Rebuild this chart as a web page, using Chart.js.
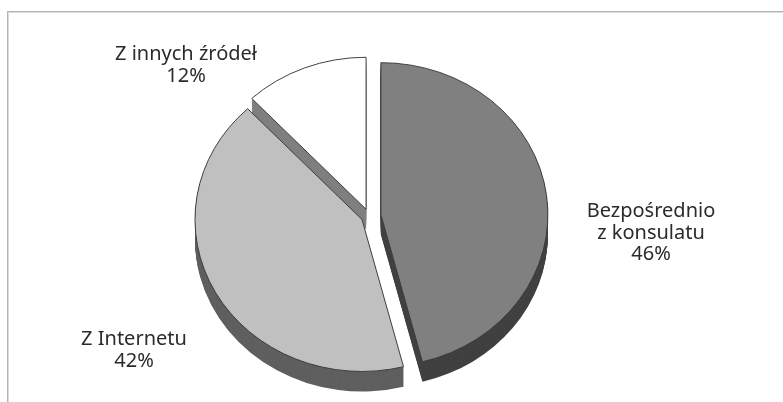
<!DOCTYPE html>
<html>
<head>
<meta charset="utf-8">
<script src="https://cdn.jsdelivr.net/npm/chart.js@4.4.1/dist/chart.umd.min.js"></script>
<style>
  html, body { margin: 0; padding: 0; background: #ffffff; }
  #wrap { position: relative; width: 783px; height: 402px; }
  canvas { display: block; }
</style>
</head>
<body>
<div id="wrap"><canvas id="c" width="783" height="402"></canvas></div>
<script>
// ---- data ----
const categories = [["Bezpośrednio", "z konsulatu"], ["Z Internetu"], ["Z innych źródeł"]];
const shares = [46, 42, 12];

// ---- styling ----
const topColors = ['#808080', '#c0c0c0', '#ffffff'];
const sideColors = ['#404040', '#5f5f5f', '#7f7f7f'];

const pie3d = {
  id: 'pie3d',
  beforeDraw(chart, args, opts) {
    const ctx = chart.ctx;
    ctx.save();
    ctx.fillStyle = '#b4b4b4';
    ctx.fillRect(7, 11, chart.width, 1);
    ctx.fillRect(7, 11, 1, chart.height);
    ctx.fillStyle = '#dcdcdc';
    ctx.fillRect(8, 12, chart.width, 1);
    ctx.fillRect(8, 12, 1, chart.height);
    ctx.restore();
  },
  beforeDatasetDraw(chart, args, opts) {
    const ctx = chart.ctx;
    const arcs = args.meta.data;
    if (!arcs.length) return false;
    const cx = arcs[0].x, cy = arcs[0].y;
    const sq = opts.squash;
    ctx.save();
    ctx.translate(cx, cy);
    ctx.scale(1, sq);
    ctx.translate(-cx, -cy);
    const shifts = arcs.map((arc, i) => {
      const h = (arc.startAngle + arc.endAngle) / 2;
      return [Math.cos(h) * opts.explode[i], Math.sin(h) * opts.explode[i]];
    });
    // side walls (extrusion)
    arcs.forEach((arc, i) => {
      const [ex, ey] = shifts[i];
      ctx.fillStyle = opts.sideColors[i];
      for (let d = opts.depth; d >= 1; d--) {
        const ox = arc.x + ex, oy = arc.y + ey + d / sq;
        ctx.beginPath();
        ctx.moveTo(ox, oy);
        ctx.arc(ox, oy, arc.outerRadius, arc.startAngle, arc.endAngle);
        ctx.closePath();
        ctx.fill();
      }
    });
    // top faces drawn by the library's arc elements
    arcs.forEach((arc, i) => {
      const [ex, ey] = shifts[i];
      ctx.save();
      ctx.translate(ex, ey);
      arc.draw(ctx);
      ctx.restore();
    });
    ctx.restore();
    return false;
  },
  afterDraw(chart, args, opts) {
    const ctx = chart.ctx;
    ctx.save();
    ctx.font = opts.font;
    ctx.fillStyle = opts.color;
    ctx.textAlign = 'center';
    ctx.textBaseline = 'alphabetic';
    chart.data.labels.forEach((lab, i) => {
      const lines = (Array.isArray(lab) ? lab.slice() : [lab]);
      lines.push(chart.data.datasets[0].data[i] + '%');
      const [x, y] = opts.labelPos[i];
      lines.forEach((t, k) => ctx.fillText(t, x, y + k * opts.lineHeight));
    });
    ctx.restore();
  }
};

new Chart(document.getElementById('c'), {
  type: 'pie',
  data: {
    labels: categories,
    datasets: [{
      data: shares,
      backgroundColor: topColors,
      borderColor: '#3a3a3a',
      borderWidth: 1,
      offset: 0
    }]
  },
  options: {
    responsive: false,
    animation: false,
    radius: 167,
    layout: { padding: { left: 0, right: 45, top: 30, bottom: 0 } },
    events: [],
    plugins: {
      legend: { display: false },
      tooltip: { enabled: false },
      pie3d: {
        squash: 0.91,
        depth: 20,
        explode: [12, 8, 8],
        sideColors: sideColors,
        font: '20px "Noto Sans"',
        color: '#2b2b2b',
        lineHeight: 21.5,
        labelPos: [[651, 217], [134, 345], [186, 60]]
      }
    }
  },
  plugins: [pie3d]
});
</script>
</body>
</html>
